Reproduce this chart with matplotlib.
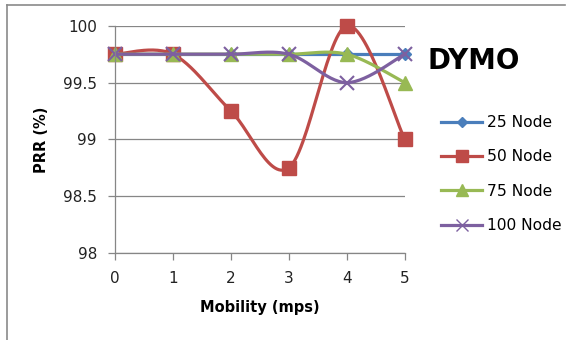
import numpy as np
import matplotlib.pyplot as plt
from matplotlib.lines import Line2D

mobility = [0, 1, 2, 3, 4, 5]
node25 = [99.75, 99.75, 99.75, 99.75, 99.75, 99.75]
node50 = [99.75, 99.75, 99.25, 98.75, 100.0, 99.0]
node75 = [99.75, 99.75, 99.75, 99.75, 99.75, 99.5]
node100 = [99.75, 99.75, 99.75, 99.75, 99.5, 99.75]
labels = ['25 Node', '50 Node', '75 Node', '100 Node']

plt.rcParams['font.family'] = ['DejaVu Sans']


def smooth(x, y, n=30):
    # cardinal spline through the points, like a spreadsheet "smoothed line"
    x = np.asarray(x, float)
    y = np.asarray(y, float)
    px = np.concatenate([[x[0]], x, [x[-1]]])
    py = np.concatenate([[y[0]], y, [y[-1]]])
    xs, ys = [], []
    for i in range(1, len(px) - 2):
        t = np.linspace(0, 1, n)
        p0, p1, p2, p3 = py[i - 1], py[i], py[i + 1], py[i + 2]
        q0, q1, q2, q3 = px[i - 1], px[i], px[i + 1], px[i + 2]
        m1y, m2y = (p2 - p0) / 2, (p3 - p1) / 2
        m1x, m2x = (q2 - q0) / 2, (q3 - q1) / 2
        h00 = 2 * t**3 - 3 * t**2 + 1
        h10 = t**3 - 2 * t**2 + t
        h01 = -2 * t**3 + 3 * t**2
        h11 = t**3 - t**2
        xs.append(h00 * q1 + h10 * m1x + h01 * q2 + h11 * m2x)
        ys.append(h00 * p1 + h10 * m1y + h01 * p2 + h11 * m2y)
    return np.concatenate(xs), np.concatenate(ys)


fig = plt.figure(figsize=(5.75, 3.4), dpi=100)
ax = fig.add_axes([0.2, 0.256, 0.504, 0.668])

series = [
    (node25, '#4A7EBB', 'D', 6),
    (node50, '#BE4B48', 's', 10),
    (node75, '#98B954', '^', 10),
    (node100, '#7D60A0', 'x', 10),
]
handles = []
for (vals, col, mk, ms), lab in zip(series, labels):
    sx, sy = smooth(mobility, vals)
    ax.plot(sx, sy, color=col, lw=2.3, solid_capstyle='round')
    ax.plot(mobility, vals, ls='none', marker=mk, ms=ms, color=col,
            mec=col, mew=1.5 if mk == 'x' else 1)
    handles.append(Line2D([], [], color=col, lw=2.3, marker=mk,
                          ms=ms * 0.8, mec=col, label=lab))

ax.set_xlim(0, 5)
ax.set_ylim(98, 100)
ax.set_yticks([98, 98.5, 99, 99.5, 100])
ax.set_yticklabels(['98', '98.5', '99', '99.5', '100'])
ax.set_xticks(mobility)
ax.margins(0)
ax.grid(axis='y', color='#868686', lw=0.9)
ax.set_axisbelow(True)
for s in ['top', 'right']:
    ax.spines[s].set_visible(False)
for s in ['left', 'bottom']:
    ax.spines[s].set_color('#868686')
    ax.spines[s].set_linewidth(0.9)
ax.tick_params(colors='#868686', labelcolor='#222222', labelsize=11,
               length=5, width=0.9, pad=8)
for ln in ax.get_lines():
    ln.set_clip_on(False)

ax.set_xlabel('Mobility (mps)', fontsize=10.5, fontweight='bold', labelpad=10)
ax.set_ylabel('PRR (%)', fontsize=10.5, fontweight='bold', labelpad=10)

fig.text(0.744, 0.822, 'DYMO', fontsize=20, fontweight='bold', va='center')
fig.legend(handles=handles, loc='upper left', bbox_to_anchor=(0.757, 0.68),
           frameon=False, fontsize=11.2, handlelength=2.6, handletextpad=0.3,
           labelspacing=1.25, borderaxespad=0)

# chart border, top and left edge
fig.add_artist(Line2D([0.012, 0.983], [0.985, 0.985], color='#8a8a8a', lw=1.2))
fig.add_artist(Line2D([0.012, 0.012], [0.0, 0.985], color='#8a8a8a', lw=1.2))

fig.savefig('out.png', dpi=100)
